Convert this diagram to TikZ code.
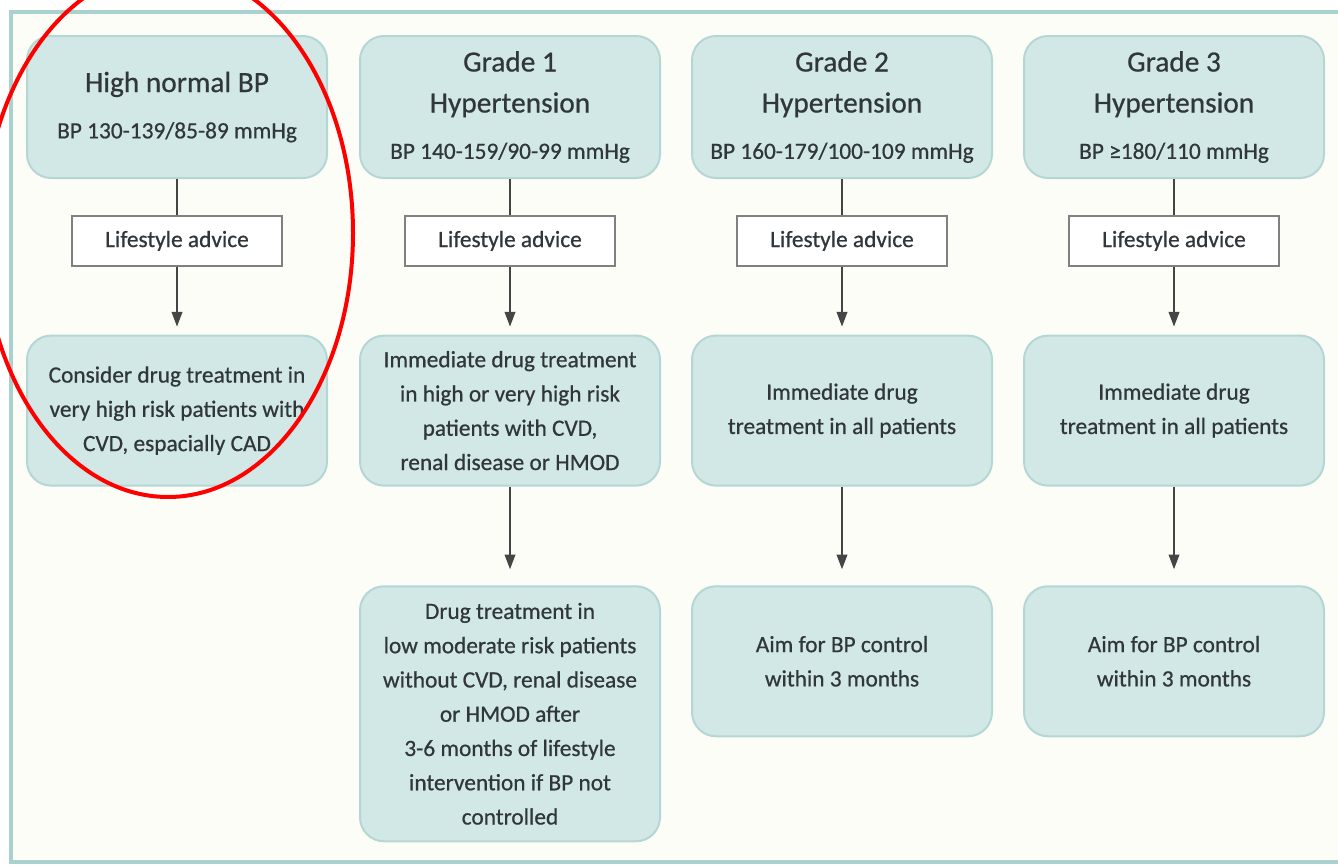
\documentclass[tikz,border=0pt]{standalone}
\usepackage{fontspec}
\setmainfont{Carlito}[FakeBold=0.6]
\usetikzlibrary{arrows.meta,positioning}
\definecolor{BTeal}{HTML}{D2E8E7}
\definecolor{BEdge}{HTML}{B5D7D4}
\definecolor{BFrame}{HTML}{A9D1CE}
\definecolor{BText}{HTML}{30363A}
\definecolor{BArrow}{HTML}{454545}
\definecolor{BPaper}{HTML}{FDFDF8}
\newcommand{\hdfont}{\fontsize{22pt}{30.75pt}\selectfont}
\newcommand{\bpfont}{\fontsize{17.5pt}{25.7pt}\selectfont}

\begin{document}
\begin{tikzpicture}[x=0.75pt,y=-0.75pt,
  hd/.style={draw=BEdge,line width=1.5pt,fill=BTeal,rounded corners=18pt,
    minimum width=225pt,minimum height=106.5pt,align=center,text=BText,font=\hdfont},
  ls/.style={draw=gray,line width=1.2pt,fill=white,
    minimum width=157.5pt,minimum height=37.5pt,align=center,text=BText,font=\bpfont},
  tx/.style={draw=BEdge,line width=1.5pt,fill=BTeal,rounded corners=18pt,
    minimum width=225pt,minimum height=112.5pt,align=center,text=BText,font=\bpfont},
  link/.style={line width=1.2pt,color=BArrow},
  a/.style={-{Triangle[length=11pt,width=8pt]},line width=1.2pt,color=BArrow}
]
  \useasboundingbox (0,0) rectangle (1338,864);
  \fill[white] (0,0) rectangle (1338,864);
  \draw[BFrame,line width=3pt,fill=BPaper] (11,12) rectangle (1360,862);

  % grade headers
  \node[hd] (h1) at (177,107) {High normal BP\\[4pt]{\bpfont BP 130-139/85-89 mmHg}};
  \node[hd] (h2) at (510,107) {Grade 1\\Hypertension\\[4pt]{\bpfont BP 140-159/90-99 mmHg}};
  \node[hd] (h3) at (842,107) {Grade 2\\Hypertension\\[4pt]{\bpfont BP 160-179/100-109 mmHg}};
  \node[hd] (h4) at (1174,107) {Grade 3\\Hypertension\\[4pt]{\bpfont BP ≥180/110 mmHg}};

  \foreach \x in {1,2,3,4}
    {\node[ls,below=27pt of h\x] (ls\x) {Lifestyle advice};}

  \node[tx,below=51pt of ls1] (tx1) {Consider drug treatment in\\very high risk patients with\\CVD, espacially CAD};
  \node[tx,below=51pt of ls2] (tx2) {Immediate drug treatment\\in high or very high risk\\patients with CVD,\\renal disease or HMOD};
  \node[tx,below=51pt of ls3] (tx3) {Immediate drug\\treatment in all patients};
  \node[tx,below=51pt of ls4] (tx4) {Immediate drug\\treatment in all patients};

  \node[tx,minimum height=191.25pt,below=74pt of tx2] (aim2) {Drug treatment in\\low moderate risk patients\\without CVD, renal disease\\or HMOD after\\3-6 months of lifestyle\\intervention if BP not\\controlled};
  \node[tx,below=74pt of tx3] (aim3) {Aim for BP control\\within 3 months};
  \node[tx,below=74pt of tx4] (aim4) {Aim for BP control\\within 3 months};

  \foreach \x in {1,2,3,4}
    {\draw[link] (h\x) -- (ls\x);
     \draw[a,shorten >=6pt] (ls\x) -- (tx\x);}
  \foreach \x in {2,3,4}
    {\draw[a,shorten >=12pt] (tx\x) -- (aim\x);}

  % highlight
  \draw[red,line width=3pt] (168,233) ellipse [x radius=138.75pt,y radius=198pt];
\end{tikzpicture}
\end{document}
